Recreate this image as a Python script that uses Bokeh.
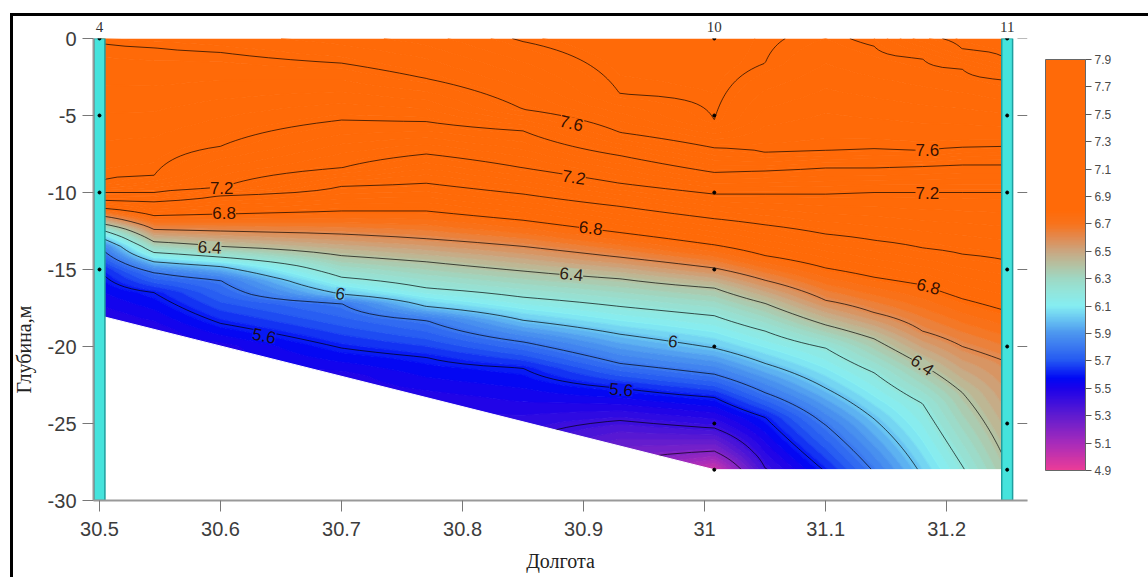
import numpy as np
from bokeh.plotting import figure
from bokeh.models import (Range1d, LinearAxis, FixedTicker, NumeralTickFormatter, ColorBar, Title,
                          LinearColorMapper, ColumnDataSource, LabelSet, CustomJSTickFormatter)
from bokeh.core.properties import value
from bokeh.embed import file_html
from bokeh.resources import INLINE

# ---------------- data ----------------
col_lon = [30.5, 30.545, 30.6, 30.7, 30.77, 30.85, 30.93, 31.008, 31.05, 31.1, 31.14, 31.18, 31.213, 31.25]

col_depths = [
    [0, -0.3, -9.4, -10.0, -10.5, -11.0, -11.5, -12.0, -12.4, -12.9, -13.5, -15.0, -18.0, -30],
    [0, -0.6, -8.9, -10.0, -10.6, -11.5, -12.4, -13.2, -13.9, -14.5, -15.2, -16.5, -18.9, -30],
    [0, -0.9, -7.0, -9.7, -10.2, -11.4, -12.5, -13.5, -14.2, -14.8, -15.7, -18.5, -20.0, -30],
    [0, -1.6, -5.3, -8.4, -9.6, -11.2, -12.7, -14.1, -15.5, -16.6, -17.2, -20.1, -21.9, -30],
    [0, -2.6, -5.4, -7.5, -9.4, -11.2, -13.0, -14.5, -16.2, -17.4, -18.3, -20.7, -23.3, -30],
    [0, -0.2, -4.6, -6.0, -8.4, -10.1, -11.8, -13.5, -15.1, -16.8, -18.3, -19.7, -21.4, -24.9, -30],
    [0, -3.6, -6.1, -7.6, -9.4, -10.9, -12.6, -14.2, -15.6, -17.4, -19.2, -21.1, -22.7, -24.8, -26.5, -30],
    [0, -5.3, -7.1, -8.7, -10.1, -11.7, -13.4, -14.9, -16.2, -18.0, -20.1, -21.8, -23.3, -25.3, -26.8, -28, -30],
    [0, -1.6, -7.4, -8.6, -10.1, -12.1, -14.1, -15.7, -17.2, -19.0, -21.1, -23.0, -24.6, -27.9, -28.0, -30],
    [0, -7.3, -8.4, -10.1, -12.7, -14.9, -17.0, -18.6, -20.1, -22.7, -25.1, -28, -30],
    [0, -0.5, -7.2, -8.4, -10.0, -13.1, -15.5, -17.8, -19.5, -21.7, -24.7, -28, -30],
    [0, -1.3, -7.3, -8.3, -10.0, -13.6, -16.0, -19.0, -21.2, -23.7, -28, -30],
    [0, -0.7, -2.0, -7.1, -8.2, -10.0, -14.0, -16.9, -20.0, -23.0, -28, -30],
    [0, -1.4, -2.7, -7.0, -8.2, -10.0, -14.4, -17.7, -21.0, -27.7, -28, -30],
]
col_temps = [
    [7.62, 7.6, 7.4, 7.2, 7.0, 6.8, 6.6, 6.4, 6.2, 6.0, 5.8, 5.6, 5.47, 5.42],
    [7.63, 7.6, 7.4, 7.2, 7.0, 6.8, 6.6, 6.4, 6.2, 6.0, 5.8, 5.6, 5.47, 5.42],
    [7.64, 7.6, 7.4, 7.2, 7.0, 6.8, 6.6, 6.4, 6.2, 6.0, 5.8, 5.6, 5.48, 5.42],
    [7.68, 7.6, 7.4, 7.2, 7.0, 6.8, 6.6, 6.4, 6.2, 6.0, 5.8, 5.6, 5.48, 5.4],
    [7.72, 7.6, 7.4, 7.2, 7.0, 6.8, 6.6, 6.4, 6.2, 6.0, 5.8, 5.6, 5.48, 5.35],
    [7.81, 7.8, 7.6, 7.4, 7.2, 7.0, 6.8, 6.6, 6.4, 6.2, 6.0, 5.8, 5.6, 5.44, 5.3],
    [7.86, 7.8, 7.6, 7.4, 7.2, 7.0, 6.8, 6.6, 6.4, 6.2, 6.0, 5.8, 5.6, 5.4, 5.26, 5.1],
    [7.86, 7.8, 7.6, 7.4, 7.2, 7.0, 6.8, 6.6, 6.4, 6.2, 6.0, 5.8, 5.6, 5.4, 5.2, 4.98, 4.95],
    [7.81, 7.8, 7.6, 7.4, 7.2, 7.0, 6.8, 6.6, 6.4, 6.2, 6.0, 5.8, 5.6, 5.4, 5.39, 5.35],
    [7.78, 7.6, 7.4, 7.2, 7.0, 6.8, 6.6, 6.4, 6.2, 6.0, 5.8, 5.61, 5.55],
    [7.82, 7.8, 7.6, 7.4, 7.2, 7.0, 6.8, 6.6, 6.4, 6.2, 6.0, 5.81, 5.78],
    [7.97, 7.8, 7.6, 7.4, 7.2, 7.0, 6.8, 6.6, 6.4, 6.2, 6.02, 6.0],
    [8.03, 8.0, 7.8, 7.6, 7.4, 7.2, 7.0, 6.8, 6.6, 6.4, 6.19, 6.18],
    [8.05, 8.0, 7.8, 7.6, 7.4, 7.2, 7.0, 6.8, 6.6, 6.4, 6.39, 6.38],
]

contour_levels = [5.2, 5.4, 5.6, 5.8, 6.0, 6.2, 6.4, 6.6, 6.8, 7.0, 7.2, 7.4, 7.6, 7.8, 8.0]

label_lon = [30.89, 31.184, 30.601, 30.892, 31.184, 30.603, 30.906, 31.185, 30.591, 30.89, 31.18, 30.699, 30.974, 30.636, 30.931]
label_depth = [-5.5, -7.27, -9.68, -9.0, -10.06, -11.36, -12.3, -16.1, -13.55, -15.3, -21.2, -16.56, -19.65, -19.3, -22.8]
label_text = ["7.6", "7.6", "7.2", "7.2", "7.2", "6.8", "6.8", "6.8", "6.4", "6.4", "6.4", "6", "6", "5.6", "5.6"]
label_angle = [-13, 0, 0, -9, 0, 0, -7, -15, -3, -6, -35, -9, -8, -12, -5]

station_lon = [30.5, 31.008, 31.25]
station_name = ["4", "10", "11"]
bar_lon = [30.5, 31.25]

sample_lon = [30.5, 30.5, 30.5, 30.5,
              31.008, 31.008, 31.008, 31.008, 31.008, 31.008, 31.008,
              31.25, 31.25, 31.25, 31.25, 31.25, 31.25, 31.25]
sample_depth = [0, -5, -10, -15,
                0, -5, -10, -15, -20, -25, -28,
                0, -5, -10, -15, -20, -25, -28]

bottom_lon = [30.5, 31.008, 31.25]
bottom_depth = [-18.0, -28.0, -28.0]

cmap_values = [4.9, 5.1, 5.3, 5.5, 5.57, 5.7, 5.8, 5.9, 6.0, 6.1, 6.2, 6.3, 6.4, 6.5, 6.6, 6.7, 6.8, 8.2]
cmap_colors = ["#ea3c98", "#a52bbb", "#5e1bd0", "#1a02ea", "#0008f5", "#2458f2", "#3a78f0", "#4c96ef",
               "#68c4f2", "#85eef2", "#92e6dc", "#9ed8c4", "#b4c2a2", "#caa680", "#e28a50", "#f8731c",
               "#ff6a08", "#ff6a08"]

cbar_ticks = [4.9, 5.1, 5.3, 5.5, 5.7, 5.9, 6.1, 6.3, 6.5, 6.7, 6.9, 7.1, 7.3, 7.5, 7.7, 7.9]
x_ticks = [30.5, 30.6, 30.7, 30.8, 30.9, 31.0, 31.1, 31.2]
y_ticks = [-30, -25, -20, -15, -10, -5, 0]

# ---------------- helpers ----------------
_rgb = np.array([[int(c[i:i + 2], 16) for i in (1, 3, 5)] for c in cmap_colors], dtype=float)


def cmap(v):
    r, g, b = (np.interp(v, cmap_values, _rgb[:, k]) for k in range(3))
    return "#%02x%02x%02x" % (int(round(r)), int(round(g)), int(round(b)))


# grid for the contouring (built from the profiles)
ys = np.linspace(-30, 0, 241)
z = np.zeros((len(ys), len(col_lon)))
for j in range(len(col_lon)):
    d = np.array(col_depths[j], dtype=float)[::-1]
    t = np.array(col_temps[j], dtype=float)[::-1]
    z[:, j] = np.interp(ys, d, t)

fill_levels = list(np.round(np.arange(4.9, 8.1001, 0.04), 3))
band_colors = [cmap(0.5 * (a + b)) for a, b in zip(fill_levels[:-1], fill_levels[1:])]
level_colors = [cmap(v) for v in fill_levels]

x_start, x_end = 30.49505, 31.2668
frame_right = 31.2585
p = figure(width=1148, height=577, output_backend="svg", toolbar_location=None,
           x_range=Range1d(x_start, x_end), y_range=Range1d(-30, 0),
           min_border_left=91, min_border_right=121, min_border_top=38, min_border_bottom=77)
# the picture's black frame lines (top and left), drawn as a CSS background behind the canvas
p.styles = {"background-image": "linear-gradient(#000000, #000000), linear-gradient(#000000, #000000)",
            "background-size": "3px 564px, 1138px 3px",
            "background-position": "10px 13px, 10px 13px",
            "background-repeat": "no-repeat"}
p.border_fill_color = None
p.outline_line_color = None
p.xgrid.visible = False
p.ygrid.visible = False
p.background_fill_color = "white"

# filled field
p.contour(x=col_lon, y=ys, z=z, levels=fill_levels, fill_color=band_colors,
          line_color=level_colors, line_width=1.2)
# contour lines
p.contour(x=col_lon, y=ys, z=z, levels=contour_levels, fill_color=None,
          line_color="black", line_alpha=0.75, line_width=0.9)

# blank area below the sea bottom
mask_x = [x_start - 0.01] + bottom_lon + [x_end + 0.01, x_end + 0.01, x_start - 0.01]
mask_y = [bottom_depth[0]] + bottom_depth + [bottom_depth[-1], -31, -31]
p.patch(mask_x, mask_y, fill_color="white", line_color="white", line_width=1)

# right-hand axis ticks (outside the data frame)
p.segment(x0=[frame_right] * len(y_ticks), x1=[x_end] * len(y_ticks), y0=y_ticks, y1=y_ticks,
          line_color="#777777", line_width=1)

# station bars and sample points
p.quad(left=[v - 0.0045 for v in bar_lon], right=[v + 0.0045 for v in bar_lon],
       bottom=[-30] * len(bar_lon), top=[0] * len(bar_lon),
       fill_color="#45e3dc", line_color="#1f9e9e", line_width=1.5)
p.scatter(sample_lon, sample_depth, size=3, color="black")

# contour labels
lab_src = ColumnDataSource(dict(x=label_lon, y=label_depth, text=label_text, angle=label_angle,
                                bg=[cmap(float(t)) for t in label_text]))
p.add_layout(LabelSet(x="x", y="y", text="text", angle="angle", angle_units="deg", source=lab_src,
                      text_align="center", text_baseline="middle",
                      text_font=value("Liberation Sans"), text_font_size="17px",
                      text_color="#1a0600", text_alpha=0.9, background_fill_color="bg"))

# axes
ax_font = "Liberation Sans"
p.xaxis.ticker = FixedTicker(ticks=x_ticks)
p.xaxis.formatter = NumeralTickFormatter(format="0.[0]")
p.yaxis.ticker = FixedTicker(ticks=y_ticks)
p.yaxis.formatter = NumeralTickFormatter(format="0")
for ax in (p.xaxis[0], p.yaxis[0]):
    ax.major_label_text_font = ax_font
    ax.major_label_text_font_size = "20px"
    ax.major_label_text_color = "#3c3c3c"
    ax.major_tick_in = 0
    ax.major_tick_out = 11
    ax.major_tick_line_color = "#777777"
    ax.minor_tick_line_color = None
    ax.axis_line_color = "#999999"
    ax.axis_line_width = 2
p.xaxis.major_label_standoff = 10
p.yaxis.major_label_standoff = 6
p.xaxis.axis_label = "Долгота"
p.xaxis.axis_label_text_font = "Liberation Serif"
p.xaxis.axis_label_text_font_style = "normal"
p.xaxis.axis_label_text_font_size = "20px"
p.xaxis.axis_label_text_color = "#222222"
p.xaxis.axis_label_standoff = 11

# station names along the top
top_ax = LinearAxis(ticker=FixedTicker(ticks=station_lon),
                    formatter=CustomJSTickFormatter(args=dict(lons=station_lon, names=station_name), code="""
                        for (let i = 0; i < lons.length; i++) {
                            if (Math.abs(lons[i] - tick) < 1e-6) return names[i];
                        }
                        return '';"""),
                    major_tick_in=0, major_tick_out=0, minor_tick_line_color=None, axis_line_color=None,
                    major_label_standoff=7, major_label_text_font="Liberation Serif",
                    major_label_text_font_size="15px", major_label_text_color="#333333")
p.add_layout(top_ax, "above")

# vertical axis title
p.add_layout(Title(text="Глубина,м", align="left", offset=107, text_font="Liberation Serif",
                   text_font_size="20px", text_font_style="normal", text_color="#222222",
                   standoff=20), "left")

# colour bar
palette = [cmap(v) for v in np.linspace(4.9, 7.9, 256)]
mapper = LinearColorMapper(palette=palette, low=4.9, high=7.9)
cb = ColorBar(color_mapper=mapper, ticker=FixedTicker(ticks=cbar_ticks),
              formatter=NumeralTickFormatter(format="0.0"),
              width=40, height=411, location=(18, 30), padding=0, margin=0,
              major_label_text_font=ax_font, major_label_text_font_size="12px",
              major_label_text_color="#4a4a4a", label_standoff=3,
              major_tick_in=0, major_tick_out=6, major_tick_line_color="#555555",
              bar_line_color="#666666", background_fill_alpha=0, border_line_color=None)
p.add_layout(cb, "right")

open("out.html", "w").write(file_html(p, INLINE))
